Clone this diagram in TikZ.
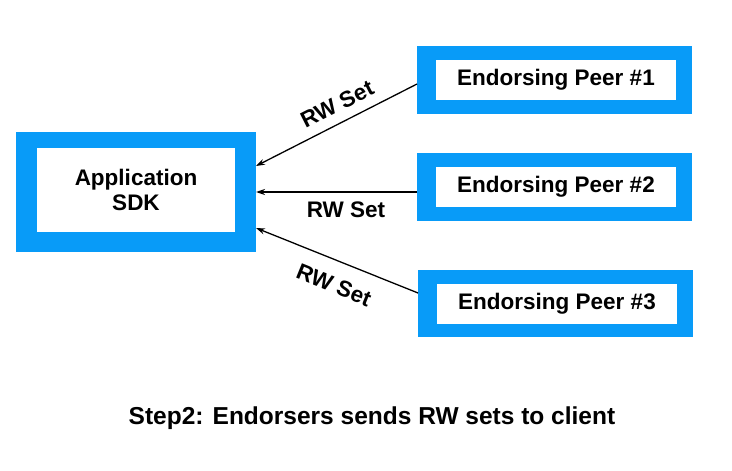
\documentclass[tikz,border=0pt]{standalone}
\usepackage{fontspec}
\setmainfont{Liberation Sans}
\usetikzlibrary{arrows.meta}
\definecolor{boxblue}{RGB}{8,155,248}
\begin{document}
\begin{tikzpicture}[x=1pt,y=-1pt,
  outerbox/.style={fill=boxblue,draw=none,inner sep=0,outer sep=0,anchor=north west},
  innerbox/.style={fill=white,draw=none,inner sep=0,outer sep=0,font=\bfseries\fontsize{22.5}{25}\selectfont,align=center},
  conn/.style={line width=1.3pt,-{Stealth[length=9pt,width=6pt]}},
  lbl/.style={font=\bfseries\fontsize{22.5}{25}\selectfont,inner sep=0}]
\useasboundingbox (0,0) rectangle (732,471);
\fill[white] (0,0) rectangle (732,471);
% application
\node[outerbox,minimum width=240pt,minimum height=120pt] (appo) at (16,132) {};
\node[innerbox,minimum width=198pt,minimum height=84pt] (app) at (136,190) {Application\\SDK};
% peers
\node[outerbox,minimum width=275pt,minimum height=68pt] (p1o) at (417,46) {};
\node[innerbox,minimum width=240pt,minimum height=40pt] (p1) at (556,80) {Endorsing Peer \#1};
\node[outerbox,minimum width=275pt,minimum height=68pt] (p2o) at (417,153) {};
\node[innerbox,minimum width=240pt,minimum height=40pt] (p2) at (556,187) {Endorsing Peer \#2};
\node[outerbox,minimum width=275pt,minimum height=67pt] (p3o) at (418,270) {};
\node[innerbox,minimum width=240pt,minimum height=40pt] (p3) at (557,304) {Endorsing Peer \#3};
% connectors
\draw[conn] ([yshift=-4pt]p1o.west) -- ([yshift=26pt]appo.east);
\draw[conn] ([yshift=-5pt]p2o.west) -- (appo.east);
\draw[conn] ([yshift=10.5pt]p3o.west) -- ([yshift=-36pt]appo.east);
% labels
\node[lbl,rotate=26.8] (l1) at (337,104) {RW Set};
\node[lbl] (l2) at (346,210) {RW Set};
\node[lbl,rotate=-22] (l3) at (334,285) {RW Set};
% caption
\node[lbl,font=\bfseries\fontsize{24.5}{28}\selectfont] (cap) at (372,418) {Step2: Endorsers sends RW sets to client};
\end{tikzpicture}
\end{document}
